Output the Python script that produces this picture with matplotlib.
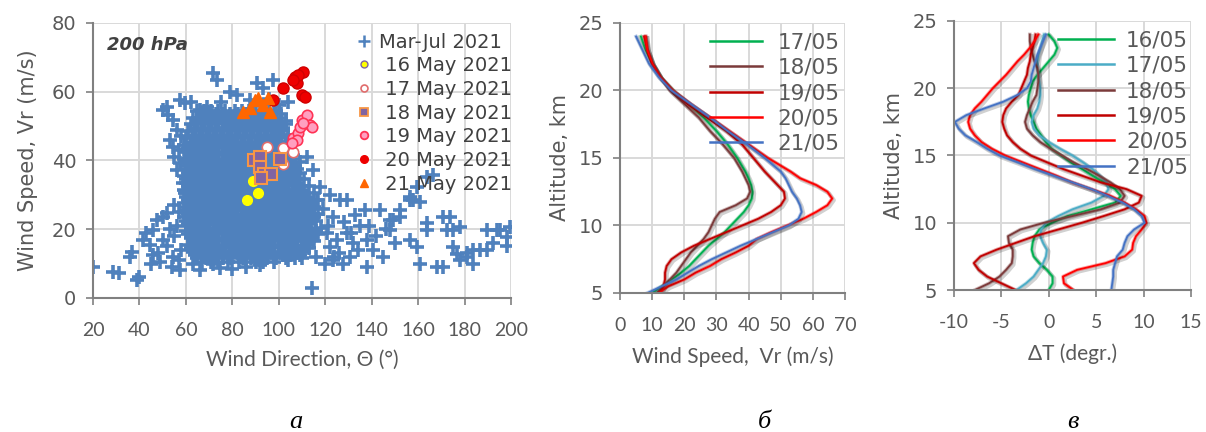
import matplotlib
matplotlib.use("Agg")
import matplotlib.pyplot as plt
import matplotlib.patheffects as pe
from matplotlib.lines import Line2D

plt.rcParams["axes.unicode_minus"] = False

# ---------------- panel a: wind direction vs wind speed at 200 hPa ----------------
# dense core of the Mar-Jul cloud, read row by row: speed -> directions
core_rows = {
    10.5: [67, 71, 74, 78, 83, 86, 90, 93],
    11.5: [65, 68.5, 72, 76, 79.5, 84.5, 88, 91.5, 95, 99, 103, 107],
    12.5: [64, 67, 70, 73, 76, 80, 83, 86, 89, 92, 95, 98, 102, 105, 109],
    13.5: [63, 66, 69, 72, 75, 78.5, 81.5, 84.5, 88, 91, 94, 97, 100, 104, 107.5, 111],
    14.5: [62, 65, 68, 71, 74, 77, 81, 84, 87, 90, 93, 96, 100, 103, 106, 110, 113],
    15.5: [61, 64, 67, 70, 73, 76, 79, 82.5, 86, 89, 92, 95, 98, 101.5, 105, 108, 112],
    16.5: [63, 66, 69, 72, 76, 79, 82, 85, 88, 91, 95, 98, 101, 104, 108, 111, 115],
    17.5: [62, 65, 68, 71, 74, 77.5, 80.5, 84, 87, 90, 93.5, 97, 100, 103, 106.5, 110, 114],
    18.5: [61, 64, 67, 70, 74, 77, 80, 83, 86, 89, 92, 96, 99, 102, 106, 109, 113, 117],
    19.5: [60, 63, 66, 69, 72.5, 76, 79, 82, 85, 88, 91, 94.5, 98, 101, 105, 108, 112, 116],
    20.5: [62, 65, 68, 72, 75, 78, 81, 84, 87, 91, 94, 97, 100, 104, 107, 111, 114, 118],
    21.5: [61, 64, 67, 70.5, 74, 77, 80, 83, 86.5, 90, 93, 96.5, 99, 103, 106, 110, 113],
    22.5: [60, 63, 66, 70, 73, 76, 79, 82, 86, 89, 92, 95, 98, 102, 105, 109, 112, 116],
    23.5: [59, 62, 65, 69, 72, 75, 78, 81, 84.5, 88, 91, 94, 97, 100.5, 104, 108, 111, 115],
    24.5: [61, 64, 68, 71, 74, 77, 80, 84, 87, 90, 93, 97, 100, 103, 107, 110, 114, 117],
    25.5: [60, 63, 66, 69.5, 73, 76, 79, 82.5, 86, 89, 92, 95.5, 99, 102, 106, 109, 113],
    26.5: [60, 63, 66, 69, 72, 76, 79, 82, 85, 88, 92, 95, 98, 101, 105, 108, 112, 115],
    27.5: [59, 62, 65, 68, 71, 74.5, 78, 81, 84, 87, 90.5, 94, 97, 100, 104, 107, 111, 114],
    28.5: [61, 64, 67, 71, 74, 77, 80, 83, 87, 90, 93, 96, 99, 103, 106, 110, 113, 117],
    29.5: [60, 63, 66, 69, 72.5, 76, 79, 82, 85, 88.5, 92, 95, 98, 101.5, 105, 109, 112],
    30.5: [60, 63, 66, 69, 72, 75, 79, 82, 85, 88, 91, 95, 98, 101, 104, 108, 111, 115],
    31.5: [59, 62, 65, 68, 71, 74, 77.5, 81, 84, 87, 90, 93.5, 97, 100, 103, 107, 110],
    32.5: [61, 64, 67, 70, 74, 77, 80, 83, 86, 90, 93, 96, 99, 102, 106, 109, 113],
    33.5: [60, 63, 66, 69, 72.5, 76, 79, 82, 85, 88.5, 92, 95, 98, 101, 104.5, 108],
    34.5: [60, 63, 66, 69, 72, 75, 78, 82, 85, 88, 91, 94, 98, 101, 104, 107, 111],
    35.5: [59, 62, 65, 68, 71, 74, 77, 80.5, 84, 87, 90, 93, 96.5, 100, 103, 106],
    36.5: [61, 64, 67, 70, 73, 77, 80, 83, 86, 89, 92, 96, 99, 102, 105, 109],
    37.5: [60, 63, 66, 69, 72, 75.5, 79, 82, 85, 88, 91, 94.5, 98, 101, 104, 108],
    38.5: [60, 63, 66, 69, 72, 75, 78, 81, 85, 88, 91, 94, 97, 101, 104, 107],
    39.5: [61, 64, 67, 70, 73.5, 77, 80, 83, 86.5, 90, 93, 96, 99, 102, 105, 109],
    40.5: [59, 62, 65, 68, 71, 74, 77, 81, 84, 87, 90, 93, 96, 100, 103, 106],
    41.5: [62, 65, 68, 71, 74, 77.5, 81, 84, 87, 90, 93, 96.5, 100, 103, 106],
    42.5: [60, 63, 66, 69, 72, 76, 79, 82, 85, 88, 91, 95, 98, 101, 104],
    43.5: [61, 64, 67, 70, 73, 76, 79, 82.5, 86, 89, 92, 95, 98, 101, 105],
    44.5: [59, 62, 65, 68, 71, 74, 77, 80, 84, 87, 90, 93, 96, 99, 103],
    45.5: [62, 65, 68, 71, 74.5, 78, 81, 84, 87, 90, 93.5, 97, 100, 103],
    46.5: [60, 63, 66, 69, 73, 76, 79, 82, 85, 88, 92, 95, 98, 101],
    47.5: [63, 66, 69, 72, 75, 78, 81.5, 85, 88, 91, 94, 97, 100.5, 104],
    48.5: [61, 64, 67, 70, 73, 76, 79, 83, 86, 89, 92, 95, 99, 102],
    49.5: [64, 67, 70, 73, 76, 79.5, 83, 86, 89, 92, 95, 98.5, 102],
    50.5: [62, 65, 68, 71, 74, 78, 81, 84, 87, 90, 93, 97, 100, 103],
    51.5: [65, 68, 71, 74, 77, 80, 83.5, 87, 90, 93, 96, 99, 103],
    52.5: [63, 66, 69, 72, 75, 78, 82, 85, 88, 91, 94, 97, 101],
    53.5: [67, 70, 73, 76, 79, 82.5, 86, 89, 92, 95, 98, 101],
    54.5: [65, 68, 71, 74, 77, 81, 84, 87, 90, 93, 96, 99],
}

# scattered Mar-Jul points around the core (direction, speed)
mar_jul_extra = [
    (20, 9.1), (28.8, 7.7), (31, 7.2), (38.8, 5.2), (40, 6.2), (36.6, 13.5), (36, 12),
    (41.7, 16.9), (43, 18.8), (46, 19.8), (44.5, 15.4), (47.4, 22.7), (50, 23.7),
    (51.7, 24.6), (45, 10), (49, 10.6), (54.6, 12), (53.9, 9.1), (57.5, 8.1), (63, 10),
    (66, 8.1), (71.8, 10), (74.7, 8.6), (48, 13), (52, 15), (55, 18), (56, 21), (53, 20),
    (57, 25), (55, 27), (50, 17), (46, 12.5), (58, 14), (57, 11), (80, 8.5), (86, 9),
    (92, 9.5), (98, 10.5), (104, 11), (110, 11.5), (116, 12), (120, 10), (124, 12),
    (50.3, 54.7), (52.4, 53.2), (54.6, 51.8), (51.7, 55.7), (57.5, 57.6), (59.6, 56.6),
    (53.2, 46), (54.6, 44), (56, 37.2), (57.5, 39.2), (58.9, 33.4), (59.6, 30.4),
    (66, 54.7), (68.9, 55.7), (67.5, 52.8), (71.8, 65.4), (73.2, 63.4), (79, 60),
    (81.9, 59), (90.5, 62.4), (93.3, 61), (97.7, 63.4), (87.6, 57.6), (56, 49), (58, 47),
    (55, 41), (57, 43), (62, 57), (75, 57), (100, 56), (104, 57), (96, 58),
    (114.2, 2.8), (129.2, 28.5), (137.1, 25.6), (143.6, 25.6), (156.5, 28.5), (160.8, 28),
    (163.7, 35.3), (166.5, 35.8), (152.2, 23.7), (149.3, 22.7), (147.9, 19.8),
    (173.7, 23.7), (178, 20.7), (172.3, 19.8), (163.7, 21.7), (163.7, 19.8), (156.5, 16.9),
    (159.4, 14.9), (160.8, 10), (170.9, 9.1), (175.2, 14.9), (176.6, 12.9), (180.9, 12),
    (183.8, 13.9), (193.9, 19.8), (199.6, 20.7), (198.2, 17.8), (192.4, 15.9),
    (189.5, 13.9), (178, 11), (168, 9.1), (170.9, 23.7), (175.2, 19.8), (180.9, 13),
    (183.8, 10), (189.5, 19.8), (195.3, 19.8), (198.1, 15), (186.6, 14), (156.5, 29.5),
    (159.4, 32.4), (157.9, 28.5), (147.9, 22.7), (152.2, 25.6), (137.8, 16.9),
    (140.7, 14), (137.8, 9.1), (129.2, 18.8), (132.1, 15.9), (135, 20.8), (123.5, 23.7),
    (126.4, 28.5), (120.6, 18.8), (122, 14.9), (123.5, 11), (130.7, 12), (127.8, 10),
    (117.7, 32.4), (116.3, 28.5), (114.9, 23.7), (112, 41), (114.9, 37.2), (121, 21),
    (125, 17), (128, 22), (131, 19), (134, 14), (126, 13), (119, 26), (122, 30), (133, 24),
    (142, 18), (145, 12), (150, 16), (146, 20), (139, 21),
]

may16_dir = [86.5, 91, 89]
may16_spd = [28.5, 30.5, 34]
may17_dir = [95, 102, 106, 102]
may17_spd = [44, 43.5, 42.5, 39]
may18_dir = [89.5, 92, 92, 93.5, 96.5, 100.5, 92.5]
may18_spd = [40, 41, 38, 36, 36, 40.5, 35]
may19_dir = [106.3, 108.4, 109.1, 109.9, 112, 113.4, 114.2, 110.6, 107.7, 105.5]
may19_spd = [46.4, 47.9, 49.8, 51.8, 53.2, 50.3, 49.8, 50.8, 46, 45]
may20_dir = [97.7, 102, 107, 107.7, 110.6, 108.4, 109.9, 111.3, 106.3]
may20_spd = [57.6, 61, 64.4, 62.4, 65.8, 64.9, 59, 58.6, 63.4]
may21_dir = [84.7, 87.6, 89.8, 91.2, 93.3, 95.5, 96.2]
may21_spd = [54.2, 55.2, 57.6, 58.1, 56.2, 58.1, 54.2]

# ---------------- panel b: wind speed profiles ----------------
alt_b = [5, 5.5, 6, 6.5, 7, 7.5, 8, 8.5, 9, 9.5, 10, 10.5, 11, 11.5, 12, 12.5, 13,
         13.5, 14, 15, 16, 17, 18, 19, 20, 21, 22, 23, 24]
ws_1705 = [10, 13, 16, 19, 21.5, 23.5, 25.5, 27.5, 30, 32.5, 34.5, 36.5, 38.5, 40, 41,
           41.2, 40.8, 40, 39, 36.5, 33.5, 30, 26, 21.5, 16.5, 12.5, 10, 8, 6.5]
ws_1805 = [11.5, 13.5, 15.5, 17.5, 19, 20.5, 22, 24, 26, 27.5, 28.5, 29.5, 31, 36, 39.5,
           40.5, 40, 39, 38, 35.5, 32, 28, 24.5, 20, 15.5, 12.5, 10, 8.5, 8]
ws_1905 = [12.5, 13.5, 14, 14, 14.5, 16, 19, 23, 28, 33, 38, 43, 47, 50, 51.3, 51, 49,
           47, 45, 41.5, 38, 33, 27, 21, 16, 12.5, 10, 8.5, 7.5]
ws_2005 = [12, 15, 20, 23.5, 28, 31.5, 36, 40, 42.5, 47, 52, 57, 61, 64.5, 66, 64.5, 61,
           56, 53, 46, 40, 34, 28, 22, 16.5, 12.5, 10, 8.5, 8]
ws_2105 = [8.5, 13, 17.5, 21, 24.5, 28.5, 33, 37.5, 42.5, 47.5, 52.5, 55.5, 56.5, 56, 55,
           53.5, 52.5, 51.5, 50, 45, 39.5, 33.5, 28, 22, 16, 12, 9, 7, 5]
labels_b = ["17/05", "18/05", "19/05", "20/05", "21/05"]
colors_b = ["#00b050", "#7b3a3a", "#c00000", "#ff0000", "#4472c4"]

# ---------------- panel c: temperature deviation profiles ----------------
alt_c = [5, 5.5, 6, 6.5, 7, 7.5, 8, 8.5, 9, 9.5, 10, 10.5, 11, 11.5, 12, 12.5, 13, 13.5,
         14, 14.5, 15, 15.5, 16, 16.5, 17, 17.5, 18, 18.5, 19, 19.5, 20, 20.5, 21, 21.5,
         22, 22.5, 23, 23.5, 24]
dt_1605 = [0, 0.4, 0.4, -0.2, -1, -1.6, -1.8, -1.7, -1.5, -1, 0.3, 2, 4.5, 7, 7.6, 7, 5.8,
           4.6, 3.5, 2.3, 1.3, 0.3, -0.3, -0.8, -1.3, -1.6, -1.9, -2.1, -2.2, -2.1, -1.9,
           -1.7, -1.2, -0.6, 0, 0.6, 0.9, 0.6, 0]
dt_1705 = [-3.4, -2.4, -1.6, -1.1, -0.6, -0.3, -0.2, -0.6, -0.9, -0.8, -0.3, 1, 2.5, 4.5,
           5.8, 6.3, 6.1, 5.4, 4.6, 3.6, 2.5, 1.2, 0, -1, -1.6, -1.8, -1.6, -1.2, -1.0,
           -0.9, -0.9, -1.0, -1.1, -1.2, -1.2, -1.1, -0.9, -0.7, -0.5]
dt_1805 = [-7.8, -6.3, -5.2, -4.5, -3.9, -3.8, -3.8, -4.2, -4.3, -3, -0.5, 2.5, 5.5, 7.5,
           8, 7.5, 6.5, 5.3, 4, 2.6, 1.4, 0.2, -0.9, -1.7, -2.3, -2.5, -2.3, -2, -1.7,
           -1.3, -1.2, -1.1, -1.1, -1.2, -1.5, -1.7, -1.9, -2.0, -2.0]
dt_1905 = [-3.5, -5, -6.5, -7.4, -7.9, -7.2, -5.5, -3.5, -1.5, 1, 3.5, 5.8, 8, 9.5, 9.8,
           8.2, 5.5, 3.5, 1.5, -0.2, -1.9, -3.0, -3.8, -4.4, -4.7, -4.9, -4.8, -4.5, -3.9,
           -3.2, -2.9, -2.6, -2.3, -2.2, -2.0, -1.9, -1.7, -1.5, -1.4]
dt_2005 = [2.6, 1.6, 1.5, 3, 6, 8, 8.8, 8.9, 9.2, 9.8, 10.3, 10.1, 9.2, 8, 6.5, 4.5, 2.5,
           0.8, -1, -2.8, -4.6, -6, -7.1, -7.8, -8.3, -8.5, -8.3, -7.8, -7.1, -6.5, -5.9,
           -5.2, -4.5, -3.9, -3.3, -2.6, -2, -1.5, -1.1]
dt_2105 = [6.6, 6.7, 6.8, 6.8, 7, 7.2, 7.8, 8, 8.3, 9, 10.1, 9.8, 9, 7.8, 6.2, 4.5, 2.5,
           0.5, -1.5, -3.3, -5.2, -6.5, -7.6, -8.8, -9.5, -9.9, -8.7, -6.8, -4.8, -3.3,
           -2.3, -1.9, -1.8, -1.6, -1.4, -1.2, -0.9, -0.6, -0.3]
labels_c = ["16/05", "17/05", "18/05", "19/05", "20/05", "21/05"]
colors_c = ["#00b050", "#4bacc6", "#7b3a3a", "#c00000", "#ff0000", "#4472c4"]

TXT = "#595959"
GRID = "#d9d9d9"
NARROW = ["Lato", "DejaVu Sans"]


def style_axes(ax):
    for s in ["top", "right"]:
        ax.spines[s].set_visible(False)
    for s in ["left", "bottom"]:
        ax.spines[s].set_color("#808080")
        ax.spines[s].set_linewidth(1.5)
    ax.grid(True, color=GRID, linewidth=1.4)
    ax.set_axisbelow(True)
    ax.tick_params(axis="both", colors="#808080", length=5, width=1.2,
                   labelcolor=TXT)
    ax.tick_params(axis="y", labelsize=14, pad=7)
    ax.tick_params(axis="x", labelsize=14, pad=12)
    for lab in ax.get_xticklabels():
        lab.set_family(NARROW)


fig = plt.figure(figsize=(12.06, 4.32), dpi=100)

# ---- panel a ----
ax1 = fig.add_axes([0.0771, 0.3102, 0.3466, 0.6366])
pts = [(d, v) for v, dirs in core_rows.items() for d in dirs] + mar_jul_extra
mj_dir = [p[0] for p in pts]
mj_spd = [p[1] for p in pts]
ax1.plot(mj_dir, mj_spd, "+", color="#4f81bd", ms=10, mew=2.6, clip_on=True)
ax1.plot(may16_dir, may16_spd, "o", ms=7, mfc="#ffff00", mec="#ffff00")
ax1.plot(may17_dir, may17_spd, "o", ms=7.5, mfc="white", mec="#e06c6c", mew=1.2)
ax1.plot(may18_dir, may18_spd, "s", ms=8.5, mfc="#8064a2", mec="#f79646", mew=1.5)
ax1.plot(may19_dir, may19_spd, "o", ms=7.5, mfc="#ff9fc0", mec="#ff3355", mew=1.2)
ax1.plot(may20_dir, may20_spd, "o", ms=8, mfc="#ee0000", mec="#d00000")
ax1.plot(may21_dir, may21_spd, "^", ms=8, mfc="#ff6600", mec="#ff6600")
ax1.set_xlim(20, 200)
ax1.set_ylim(0, 80)
ax1.set_xticks(range(20, 201, 20))
ax1.set_yticks(range(0, 81, 20))
style_axes(ax1)
ax1.set_ylabel("Wind Speed, Vr (m/s)", fontsize=15, color=TXT, labelpad=10)
ax1.set_xlabel("Wind Direction, \u0398 (\u00b0)", fontsize=15, color=TXT,
               family=NARROW, labelpad=8)
ax1.text(26, 73.5, "200 hPa", fontsize=13, style="italic", weight="bold",
         color="#404040", va="center")

leg_handles = [
    Line2D([], [], ls="", marker="+", color="#4f81bd", ms=9, mew=1.8),
    Line2D([], [], ls="", marker="o", ms=5, mfc="#ffff00", mec="#8064a2", mew=1),
    Line2D([], [], ls="", marker="o", ms=5, mfc="white", mec="#e06c6c", mew=1.2),
    Line2D([], [], ls="", marker="s", ms=5.5, mfc="#8064a2", mec="#f79646", mew=1.3),
    Line2D([], [], ls="", marker="o", ms=5.5, mfc="#ff9fc0", mec="#ff3355", mew=1.3),
    Line2D([], [], ls="", marker="o", ms=5.5, mfc="#ee0000", mec="#ee0000"),
    Line2D([], [], ls="", marker="^", ms=6, mfc="#ff6600", mec="#ff6600"),
]
leg_labels = ["Mar-Jul 2021", " 16 May 2021", " 17 May 2021", " 18 May 2021",
              " 19 May 2021", " 20 May 2021", " 21 May 2021"]
leg = ax1.legend(leg_handles, leg_labels, loc="upper left",
                 bbox_to_anchor=(0.625, 0.965), frameon=False, fontsize=14,
                 handlelength=1.0, handletextpad=0.25, labelspacing=0.24,
                 borderpad=0, borderaxespad=0)
for t in leg.get_texts():
    t.set_color("#404040")


def soft_line(ax, x, y, color, label):
    ax.plot(x, y, color=color, lw=1.3, label=label,
            path_effects=[pe.SimpleLineShadow(offset=(1.2, -1.2), shadow_color="k",
                                              alpha=0.18, linewidth=3),
                          pe.Stroke(linewidth=2.6, foreground=color, alpha=0.35),
                          pe.Normal()])


def line_legend(ax, anchor, hl, pad):
    lg = ax.legend(loc="upper left", bbox_to_anchor=anchor, frameon=False,
                   fontsize=15.5, handlelength=hl, handletextpad=pad,
                   labelspacing=0.25, borderpad=0, borderaxespad=0)
    for t in lg.get_texts():
        t.set_color(TXT)
    for h in lg.get_lines():
        h.set_linewidth(1.8)
        h.set_path_effects([])


# ---- panel b ----
ax2 = fig.add_axes([0.5141, 0.3218, 0.1866, 0.625])
for ws, c, lab in zip([ws_1705, ws_1805, ws_1905, ws_2005, ws_2105], colors_b, labels_b):
    soft_line(ax2, ws, alt_b, c, lab)
ax2.set_xlim(0, 70)
ax2.set_ylim(5, 25)
ax2.set_xticks(range(0, 71, 10))
ax2.set_yticks(range(5, 26, 5))
style_axes(ax2)
ax2.set_ylabel("Altitude, km", fontsize=15, color=TXT, labelpad=6)
ax2.set_xlabel("Wind Speed,  Vr (m/s)", fontsize=15, color=TXT, family=NARROW,
               labelpad=9)
line_legend(ax2, (0.40, 0.965), 2.4, 0.75)

# ---- panel c ----
ax3 = fig.add_axes([0.7910, 0.3287, 0.1965, 0.6227])
for dt, c, lab in zip([dt_1605, dt_1705, dt_1805, dt_1905, dt_2005, dt_2105],
                      colors_c, labels_c):
    soft_line(ax3, dt, alt_c, c, lab)
ax3.set_xlim(-10, 15)
ax3.set_ylim(5, 25)
ax3.set_xticks(range(-10, 16, 5))
ax3.set_yticks(range(5, 26, 5))
style_axes(ax3)
ax3.set_ylabel("Altitude, km", fontsize=15, color=TXT, labelpad=6)
ax3.set_xlabel("\u0394T (degr.)", fontsize=15, color=TXT, family=NARROW, labelpad=9)
line_legend(ax3, (0.44, 0.965), 2.6, 0.55)

# panel letters
for x, s in [(0.245, "а"), (0.634, "б"), (0.890, "в")]:
    fig.text(x, 0.01, s, fontsize=19, style="italic", family="Liberation Serif",
             color="black", ha="center")

fig.savefig("out.png", dpi=100)
